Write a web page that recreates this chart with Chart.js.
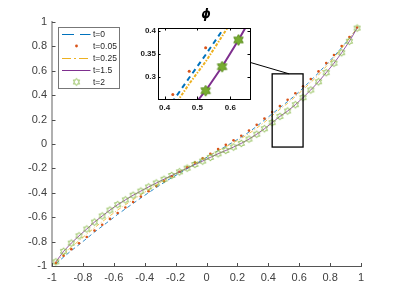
<!DOCTYPE html>
<html>
<head>
<meta charset="utf-8">
<script src="https://cdn.jsdelivr.net/npm/chart.js@4.4.1/dist/chart.umd.min.js"></script>
<style>
  body { margin: 0; background: #fff; }
  #wrap { position: relative; width: 399px; height: 299px; }
  #main { position: absolute; left: 0; top: 0; }
  #inset { position: absolute; left: 130px; top: 0; }
</style>
</head>
<body>
<div id="wrap">
  <canvas id="main" width="399" height="299"></canvas>
  <canvas id="inset" width="130" height="115"></canvas>
</div>
<script>
// cell centres
const xs = [-0.975, -0.925, -0.875, -0.825, -0.775, -0.725, -0.675, -0.625, -0.575, -0.525,
            -0.475, -0.425, -0.375, -0.325, -0.275, -0.225, -0.175, -0.125, -0.075, -0.025,
             0.025,  0.075,  0.125,  0.175,  0.225,  0.275,  0.325,  0.375,  0.425,  0.475,
             0.525,  0.575,  0.625,  0.675,  0.725,  0.775,  0.825,  0.875,  0.925,  0.975];

const phiT0 = [-0.982, -0.927, -0.874, -0.825, -0.774, -0.722, -0.674, -0.626, -0.577, -0.532,
               -0.487, -0.443, -0.399, -0.357, -0.316, -0.276, -0.240, -0.202, -0.165, -0.130,
               -0.092, -0.054, -0.019,  0.018,  0.056,  0.098,  0.145,  0.196,  0.247,  0.298,
                0.348,  0.400,  0.458,  0.521,  0.583,  0.651,  0.718,  0.791,  0.865,  0.950];

const phiT005 = [-0.976, -0.915, -0.862, -0.813, -0.762, -0.710, -0.662, -0.614, -0.565, -0.520,
                 -0.475, -0.431, -0.387, -0.345, -0.304, -0.264, -0.228, -0.190, -0.153, -0.118,
                 -0.080, -0.042, -0.007,  0.030,  0.068,  0.110,  0.157,  0.208,  0.262,  0.312,
                  0.363,  0.416,  0.473,  0.533,  0.595,  0.663,  0.730,  0.803,  0.877,  0.955];

const phiT025 = [-0.972, -0.903, -0.845, -0.792, -0.739, -0.686, -0.637, -0.589, -0.541, -0.498,
                 -0.456, -0.415, -0.375, -0.336, -0.299, -0.262, -0.228, -0.193, -0.158, -0.126,
                 -0.090, -0.055, -0.023,  0.011,  0.046,  0.086,  0.130,  0.179,  0.232,  0.285,
                  0.333,  0.388,  0.445,  0.505,  0.565,  0.636,  0.706,  0.784,  0.865,  0.953];

const phiT15 = [-0.966, -0.880, -0.812, -0.753, -0.697, -0.640, -0.590, -0.542, -0.497, -0.458,
                -0.420, -0.386, -0.352, -0.320, -0.289, -0.258, -0.228, -0.198, -0.168, -0.140,
                -0.110, -0.080, -0.053, -0.025,  0.005,  0.040,  0.080,  0.125,  0.175,  0.226,
                 0.270,  0.322,  0.380,  0.443,  0.510,  0.585,  0.662,  0.748,  0.842,  0.950];

const phiT2 = [-0.966, -0.880, -0.812, -0.753, -0.697, -0.640, -0.590, -0.542, -0.497, -0.458,
               -0.420, -0.386, -0.352, -0.320, -0.289, -0.258, -0.228, -0.198, -0.168, -0.140,
               -0.110, -0.080, -0.053, -0.025,  0.005,  0.040,  0.080,  0.125,  0.175,  0.226,
                0.270,  0.322,  0.380,  0.443,  0.510,  0.585,  0.662,  0.748,  0.842,  0.950];

const labels = ['t=0', 't=0.05', 't=0.25', 't=1.5', 't=2'];

const xTicks = [-1, -0.8, -0.6, -0.4, -0.2, 0, 0.2, 0.4, 0.6, 0.8, 1];
const yTicks = [-1, -0.8, -0.6, -0.4, -0.2, 0, 0.2, 0.4, 0.6, 0.8, 1];
const insetXTicks = [0.4, 0.5, 0.6];
const insetYTicks = [0.3, 0.35, 0.4];

// the rectangle marked on the main axes
const zoomBox = { x0: 0.425, x1: 0.625, y0: -0.025, y1: 0.575 };

const BLUE = '#0072BD', ORANGE = '#D95319', YELLOW = '#EDB120', PURPLE = '#7E2F8E', GREEN = '#77AC30';

Chart.defaults.font.family = "'Liberation Sans', Arial, sans-serif";
Chart.defaults.animation = false;

function pts(ys) {
  return xs.map((x, i) => ({ x: x, y: ys[i] }));
}

// six pointed star marker
function hexagram(r, fill, stroke, lw) {
  const c = document.createElement('canvas');
  const s = Math.ceil(2 * r + 2 * lw + 2);
  c.width = s; c.height = s;
  const g = c.getContext('2d');
  g.translate(s / 2, s / 2);
  g.beginPath();
  for (let k = 0; k < 12; k++) {
    const a = -Math.PI / 2 + k * Math.PI / 6;
    const rr = k % 2 ? r * 0.577 : r;
    g.lineTo(rr * Math.cos(a), rr * Math.sin(a));
  }
  g.closePath();
  if (fill) { g.fillStyle = fill; g.fill(); }
  g.strokeStyle = stroke;
  g.lineWidth = lw;
  g.stroke();
  return c;
}

const starSmall = hexagram(3.6, null, '#86b845', 0.9);
const starBig = hexagram(5.5, GREEN, '#5e8f22', 1);

function fmt(v) {
  const s = String(Math.round(v * 100) / 100);
  return s === '-0' ? '0' : s;
}

function inTicks(ctx, scale, area, len, mirror) {
  ctx.beginPath();
  scale.ticks.forEach(t => {
    const p = Math.round(scale.getPixelForValue(t.value)) + 0.5;
    if (scale.axis === 'x') {
      ctx.moveTo(p, area.bottom); ctx.lineTo(p, area.bottom - len);
      if (mirror) { ctx.moveTo(p, area.top); ctx.lineTo(p, area.top + len); }
    } else {
      ctx.moveTo(area.left, p); ctx.lineTo(area.left + len, p);
      if (mirror) { ctx.moveTo(area.right, p); ctx.lineTo(area.right - len, p); }
    }
  });
  ctx.stroke();
}

const mainDecor = {
  id: 'mainDecor',
  afterDraw(chart) {
    const { ctx, chartArea: a } = chart;
    const x = chart.scales.x, y = chart.scales.y;
    ctx.save();
    ctx.strokeStyle = '#4d4d4d';
    ctx.lineWidth = 1;
    inTicks(ctx, x, a, 3, false);
    inTicks(ctx, y, a, 3.5, false);

    // zoom rectangle and connector to the inset
    const bx0 = x.getPixelForValue(zoomBox.x0), bx1 = x.getPixelForValue(zoomBox.x1);
    const by0 = y.getPixelForValue(zoomBox.y1), by1 = y.getPixelForValue(zoomBox.y0);
    ctx.strokeStyle = '#000';
    ctx.lineWidth = 1.3;
    ctx.strokeRect(bx0, by0, bx1 - bx0, by1 - by0);
    ctx.lineWidth = 1;
    ctx.beginPath();
    ctx.moveTo(250.5, 62.5);
    ctx.lineTo(x.getPixelForValue(0.535), by0);
    ctx.stroke();

    // legend
    const lx = 58.5, ly = 27.5;
    ctx.fillStyle = '#fff';
    ctx.fillRect(lx, ly, 61, 61);
    ctx.strokeStyle = '#777';
    ctx.strokeRect(lx, ly, 61, 61);
    ctx.font = "8.5px 'Liberation Sans', Arial, sans-serif";
    ctx.textBaseline = 'middle';
    chart.data.datasets.forEach((ds, i) => {
      const ry = 34 + 12 * i;
      if (ds.legendKind === 'line') {
        ctx.strokeStyle = ds.borderColor;
        ctx.lineWidth = 1;
        ctx.setLineDash(ds.legendDash);
        ctx.beginPath();
        ctx.moveTo(62, ry + 0.5); ctx.lineTo(90.5, ry + 0.5);
        ctx.stroke();
        ctx.setLineDash([]);
      } else if (ds.legendKind === 'dot') {
        ctx.fillStyle = ds.backgroundColor;
        ctx.beginPath();
        ctx.arc(76.5, ry, 1.4, 0, Math.PI * 2);
        ctx.fill();
      } else {
        ctx.drawImage(ds.pointStyle, 76.5 - ds.pointStyle.width / 2, ry - ds.pointStyle.height / 2);
      }
      ctx.fillStyle = '#262626';
      ctx.fillText(ds.label, 93, ry + 0.5);
    });
    ctx.restore();
  }
};

new Chart(document.getElementById('main'), {
  type: 'line',
  data: {
    datasets: [
      { label: labels[0], data: pts(phiT0), borderColor: BLUE, borderWidth: 0.8, borderDash: [4, 3],
        pointRadius: 0, order: 5, legendKind: 'line', legendDash: [12, 6] },
      { label: labels[1], data: pts(phiT005), showLine: false, pointRadius: 1.3, pointBorderWidth: 0,
        backgroundColor: ORANGE, borderColor: ORANGE, order: 4, legendKind: 'dot' },
      { label: labels[2], data: pts(phiT025), borderColor: YELLOW, borderWidth: 0.8, borderDash: [4, 2, 1, 2],
        pointRadius: 0, order: 3, legendKind: 'line', legendDash: [9, 3, 2, 3] },
      { label: labels[3], data: pts(phiT15), borderColor: PURPLE, borderWidth: 0.8,
        pointRadius: 0, order: 2, legendKind: 'line', legendDash: [] },
      { label: labels[4], data: pts(phiT2), showLine: false, pointStyle: starSmall, pointRadius: 4,
        borderColor: GREEN, backgroundColor: GREEN, order: 1, legendKind: 'star' }
    ]
  },
  options: {
    responsive: false,
    maintainAspectRatio: false,
    layout: { padding: { left: 0, right: 38, top: 22, bottom: 13 } },
    plugins: { legend: { display: false }, tooltip: { enabled: false } },
    elements: { line: { tension: 0 } },
    scales: {
      x: {
        type: 'linear', min: -1, max: 1,
        afterBuildTicks: s => { s.ticks = xTicks.map(v => ({ value: v })); },
        afterFit: s => { s.height = 20; },
        grid: { display: false, drawTicks: false },
        border: { display: true, color: '#555', width: 1 },
        ticks: { color: '#404040', font: { size: 11 }, padding: 5, maxRotation: 0, autoSkip: false,
                 callback: v => fmt(v) }
      },
      y: {
        type: 'linear', min: -1, max: 1,
        afterBuildTicks: s => { s.ticks = yTicks.map(v => ({ value: v })); },
        afterFit: s => { s.width = 52; },
        grid: { display: false, drawTicks: false },
        border: { display: true, color: '#b0b0b0', width: 2 },
        ticks: { color: '#404040', font: { size: 11 }, padding: 5, autoSkip: false,
                 callback: v => fmt(v) }
      }
    }
  },
  plugins: [mainDecor]
});

const insetDecor = {
  id: 'insetDecor',
  beforeDatasetsDraw(chart) {
    const { ctx, chartArea: a } = chart;
    ctx.save();
    ctx.fillStyle = '#fff';
    ctx.fillRect(a.left, a.top, a.right - a.left, a.bottom - a.top);
    ctx.restore();
  },
  afterDraw(chart) {
    const { ctx, chartArea: a } = chart;
    ctx.save();
    ctx.strokeStyle = '#000';
    ctx.lineWidth = 1;
    ctx.strokeRect(Math.round(a.left) + 0.5, Math.round(a.top) + 0.5,
                   Math.round(a.right - a.left), Math.round(a.bottom - a.top));
    inTicks(ctx, chart.scales.x, a, 2.5, true);
    inTicks(ctx, chart.scales.y, a, 2.5, true);
    ctx.fillStyle = '#000';
    ctx.font = "bold italic 12px 'DejaVu Sans', sans-serif";
    ctx.textAlign = 'center';
    ctx.textBaseline = 'middle';
    ctx.fillText('\u03D5', 76, 15);
    ctx.restore();
  }
};

new Chart(document.getElementById('inset'), {
  type: 'line',
  data: {
    datasets: [
      { label: labels[0], data: pts(phiT0), borderColor: BLUE, borderWidth: 2, borderDash: [5, 4],
        pointRadius: 0, order: 5, clip: 0 },
      { label: labels[1], data: pts(phiT005), showLine: false, pointRadius: 1.5, pointBorderWidth: 0,
        backgroundColor: ORANGE, order: 4, clip: 0 },
      { label: labels[2], data: pts(phiT025), borderColor: YELLOW, borderWidth: 2, borderDash: [3, 1.5, 1.5, 1.5],
        pointRadius: 0, order: 3, clip: 0 },
      { label: labels[3], data: pts(phiT15), borderColor: PURPLE, borderWidth: 2,
        pointRadius: 0, order: 2, clip: 0 },
      { label: labels[4], data: pts(phiT2), showLine: false, pointStyle: starBig, pointRadius: 6,
        borderColor: GREEN, backgroundColor: GREEN, order: 1, clip: 0 }
    ]
  },
  options: {
    responsive: false,
    maintainAspectRatio: false,
    layout: { padding: { left: 0, right: 10, top: 28, bottom: 4 } },
    plugins: { legend: { display: false }, tooltip: { enabled: false } },
    elements: { line: { tension: 0 } },
    scales: {
      x: {
        type: 'linear', min: 0.38, max: 0.66,
        afterBuildTicks: s => { s.ticks = insetXTicks.map(v => ({ value: v })); },
        afterFit: s => { s.height = 12; },
        grid: { display: false, drawTicks: false },
        border: { display: true, color: '#000', width: 1 },
        ticks: { color: '#1a1a1a', font: { size: 8, weight: 'bold' }, padding: 4, maxRotation: 0, autoSkip: false,
                 callback: v => fmt(v) }
      },
      y: {
        type: 'linear', min: 0.252, max: 0.406,
        afterBuildTicks: s => { s.ticks = insetYTicks.map(v => ({ value: v })); },
        afterFit: s => { s.width = 28; },
        grid: { display: false, drawTicks: false },
        border: { display: true, color: '#000', width: 1 },
        ticks: { color: '#1a1a1a', font: { size: 8, weight: 'bold' }, padding: 2, autoSkip: false,
                 callback: v => fmt(v) }
      }
    }
  },
  plugins: [insetDecor]
});
</script>
</body>
</html>
